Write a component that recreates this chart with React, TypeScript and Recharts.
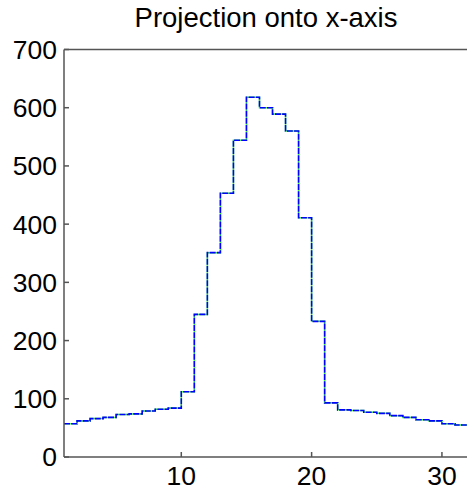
import React from 'react';
import { Line, LineChart, XAxis, YAxis } from 'recharts';

// bin left edges (last one closes the final stair)
const binEdges = [1, 2, 3, 4, 5, 6, 7, 8, 9, 10, 11, 12, 13, 14, 15, 16, 17, 18, 19, 20, 21, 22, 23, 24, 25, 26, 27, 28, 29, 30, 31, 32];
const counts = [57, 62, 66, 68, 73, 74, 79, 82, 84, 112, 245, 351, 453, 544, 618, 600, 589, 560, 411, 233, 93, 81, 80, 77, 75, 71, 68, 64, 62, 57, 55, 55];
const xTicks = [10, 20, 30];
const yTicks = [0, 100, 200, 300, 400, 500, 600, 700];

const data = binEdges.map((x, i) => ({ x, count: counts[i] }));

const axisColor = '#555';
const tickFont = { fill: '#000', fontSize: 26.5, fontFamily: 'Liberation Sans, Arial, sans-serif' };

export default function App() {
  return (
    <div style={{ position: 'absolute', left: 0, top: 0, width: 467, height: 492, overflow: 'hidden', background: '#fff' }}>
      <div
        style={{
          position: 'absolute',
          left: 0,
          top: 4,
          width: 532,
          textAlign: 'center',
          fontFamily: 'Liberation Sans, Arial, sans-serif',
          fontSize: 27.5,
          lineHeight: '27px',
          color: '#000',
        }}
      >
        Projection onto x-axis
      </div>
      <LineChart width={480} height={492} data={data} margin={{ top: 39.5, right: 2, left: 0, bottom: 0 }}>
        <XAxis
          xAxisId="bottom"
          dataKey="x"
          type="number"
          domain={[1, 32]}
          ticks={xTicks}
          allowDataOverflow
          height={35}
          stroke={axisColor}
          strokeWidth={1.5}
          tickSize={-5}
          tickMargin={14}
          tick={tickFont}
        />
        <XAxis
          xAxisId="top"
          orientation="top"
          dataKey="x"
          type="number"
          domain={[1, 32]}
          ticks={xTicks}
          allowDataOverflow
          height={10}
          stroke={axisColor}
          strokeWidth={1.5}
          tickSize={-5}
          tick={false}
        />
        <YAxis
          yAxisId="left"
          type="number"
          domain={[0, 700]}
          ticks={yTicks}
          width={64}
          stroke={axisColor}
          strokeWidth={1.5}
          tickSize={-5}
          tickMargin={12}
          tick={tickFont}
        />
        <YAxis
          yAxisId="right"
          orientation="right"
          type="number"
          domain={[0, 700]}
          ticks={yTicks}
          width={10}
          stroke={axisColor}
          strokeWidth={1.5}
          tickSize={-5}
          tick={false}
        />
        <Line
          xAxisId="bottom"
          yAxisId="left"
          type="stepAfter"
          dataKey="count"
          stroke="#44ff44"
          strokeWidth={1.5}
          dot={false}
          activeDot={false}
          isAnimationActive={false}
        />
        <Line
          xAxisId="bottom"
          yAxisId="left"
          type="stepAfter"
          dataKey="count"
          stroke="#0000ff"
          strokeWidth={1.6}
          strokeDasharray="6 1.2"
          dot={false}
          activeDot={false}
          isAnimationActive={false}
        />
      </LineChart>
    </div>
  );
}
